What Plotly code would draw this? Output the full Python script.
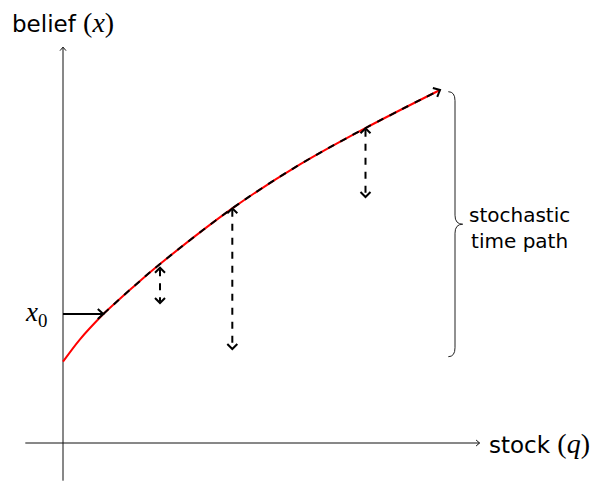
import plotly.graph_objects as go

# ---- data (diagram units) ----
curve_q = [0.0, 0.456, 1.069, 1.822, 2.573, 4.491, 6.286, 8.011, 10.0]
curve_x = [2.157, 2.758, 3.422, 4.103, 4.748, 6.225, 7.39, 8.347, 9.363]
x0_index = 2                     # belief x0 sits on the curve here

shock_q = [2.573, 4.491, 8.024]
shock_top = [4.65, 6.225, 8.347]
shock_bottom = [3.714, 2.493, 6.525]

q_axis = [-1.0, 11.05]
x_axis = [-1.0, 10.5]

brace_top, brace_bottom = 9.318, 2.289

label_y = "belief"
label_y_math = "x"
label_x = "stock"
label_x_math = "q"
label_x0 = "x"
label_brace = ["stochastic", "time path"]

# ---- geometry helpers ----
S = 37.7          # pixels per diagram unit
W, H = 599, 481
ox, oy = 63, 443  # pixel position of origin
xr = [-ox / S, (W - ox) / S]
yr = [-(H - oy) / S, oy / S]

def chevron(tu, tv, du, dv, back, side):
    n = (du ** 2 + dv ** 2) ** 0.5
    du, dv = du / n, dv / n
    pu, pv = -dv, du
    b, s = back / S, side / S
    return ([tu - du * b + pu * s, tu, tu - du * b - pu * s],
            [tv - dv * b + pv * s, tv, tv - dv * b - pv * s])

fig = go.Figure()

def add_line(xs, ys, color, width, dash="solid", shape="linear"):
    fig.add_trace(go.Scatter(x=xs, y=ys, mode="lines", hoverinfo="skip",
                             line=dict(color=color, width=width, dash=dash, shape=shape,
                                       smoothing=1.0 if shape == "spline" else None)))

# axes
add_line([q_axis[0], q_axis[1]], [0, 0], "#111", 1)
add_line([0, 0], [x_axis[0], x_axis[1]], "#111", 1)
cx, cy = chevron(q_axis[1], 0, 1, 0, 3.5, 3.0)
add_line(cx, cy, "#111", 1)
cx, cy = chevron(0, x_axis[1], 0, 1, 3.5, 3.0)
add_line(cx, cy, "#111", 1)

# red curve (two parts so the dashed overlay matches exactly)
add_line(curve_q[:x0_index + 1], curve_x[:x0_index + 1], "#ff0000", 2, shape="spline")
add_line(curve_q[x0_index:], curve_x[x0_index:], "#ff0000", 2, shape="spline")
# black dashed path
add_line(curve_q[x0_index:], curve_x[x0_index:], "#000", 2, dash="7px,7px", shape="spline")
cx, cy = chevron(curve_q[-1], curve_x[-1],
                 curve_q[-1] - curve_q[-2], (curve_x[-1] - curve_x[-2]) * 0.95, 5.5, 5)
add_line(cx, cy, "#000", 2)

# x0 arrow
add_line([0, curve_q[x0_index]], [curve_x[x0_index]] * 2, "#000", 2)
cx, cy = chevron(curve_q[x0_index], curve_x[x0_index], 1, 0, 5.5, 5)
add_line(cx, cy, "#000", 2)

# shocks
for q, t, b in zip(shock_q, shock_top, shock_bottom):
    add_line([q, q], [t - 1.5 / S, b + 1.5 / S], "#000", 2, dash="7px,7px")
    cx, cy = chevron(q, t, 0, 1, 5, 5)
    add_line(cx, cy, "#000", 2)
    cx, cy = chevron(q, b, 0, -1, 5, 5)
    add_line(cx, cy, "#000", 2)

# brace
bx_end = (448.3 - ox) / S
bx_line = (455.0 - ox) / S
bx_tip = (462.7 - ox) / S
r = 9 / S
mid = (brace_top + brace_bottom) / 2
path = (f"M {bx_end},{brace_top} Q {bx_line},{brace_top} {bx_line},{brace_top - r} "
        f"L {bx_line},{mid + r} Q {bx_line},{mid} {bx_tip},{mid} "
        f"Q {bx_line},{mid} {bx_line},{mid - r} "
        f"L {bx_line},{brace_bottom + r} Q {bx_line},{brace_bottom} {bx_end},{brace_bottom}")
fig.add_shape(type="path", path=path, xref="x", yref="y",
              line=dict(color="#222", width=1))

sans = "DejaVu Sans"
serif = "Liberation Serif"
math_span = '<span style="font-family:%s;font-size:28px">(<i>%s</i>)</span>'

fig.add_annotation(x=(63 - ox) / S, y=(oy - 22) / S, xref="x", yref="y", showarrow=False,
                   xanchor="center", yanchor="middle",
                   text=f"{label_y} " + math_span % (serif, label_y_math),
                   font=dict(family=sans, size=23, color="#000"))
fig.add_annotation(x=(487 - ox) / S, y=0, xref="x", yref="y", showarrow=False,
                   xanchor="left", yanchor="middle",
                   text=f"{label_x} " + math_span % (serif, label_x_math),
                   font=dict(family=sans, size=23, color="#000"))
fig.add_annotation(x=(49 - ox) / S, y=curve_x[x0_index], xref="x", yref="y", showarrow=False,
                   xanchor="right", yanchor="middle",
                   text=f"<i>{label_x0}</i><sub>0</sub>",
                   font=dict(family=serif, size=27, color="#000"))
fig.add_annotation(x=(519 - ox) / S, y=(oy - 228) / S, xref="x", yref="y", showarrow=False,
                   xanchor="center", yanchor="middle",
                   text="<br>".join(label_brace),
                   font=dict(family=sans, size=20, color="#000"))

fig.update_layout(width=W, height=H, autosize=False,
                  margin=dict(l=0, r=0, t=0, b=0, pad=0),
                  paper_bgcolor="white", plot_bgcolor="white", showlegend=False,
                  xaxis=dict(range=xr, visible=False, fixedrange=True),
                  yaxis=dict(range=yr, visible=False, fixedrange=True))
fig.write_html("out.html", config={"displayModeBar": False},
               post_script="document.body.style.margin='0px';document.body.style.overflow='hidden';")
